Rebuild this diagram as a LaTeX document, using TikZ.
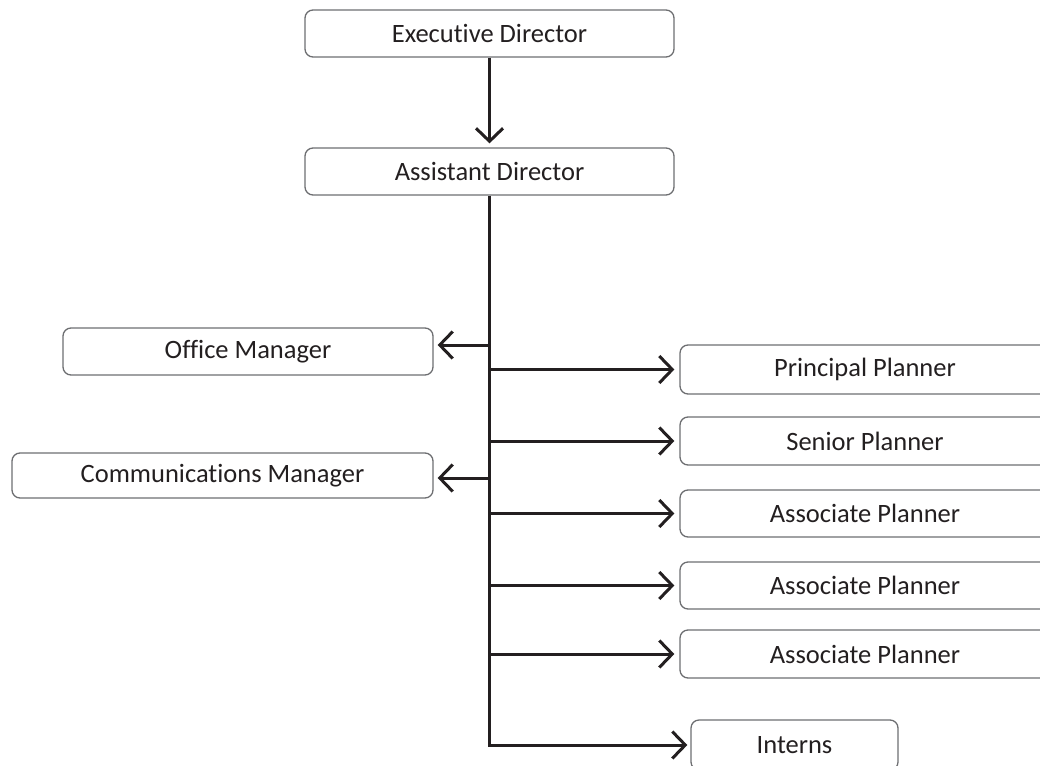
\documentclass[tikz,border=0pt]{standalone}
\usepackage{fontspec}
\setmainfont{Carlito}[Ligatures={NoCommon,NoRequired,NoContextual}]
\usetikzlibrary{arrows.meta}
\definecolor{ink}{HTML}{231F20}
\definecolor{edge}{HTML}{6D6E71}
\begin{document}
\begin{tikzpicture}[x=1pt,y=-1pt,
  box/.style={draw=edge, line width=1.3pt, rounded corners=8pt, inner sep=0pt,
    font=\fontsize{26.5}{30}\selectfont, text=ink},
  conn/.style={draw=ink, line width=3pt},
  arr/.style={conn, -{Straight Barb[length=13pt,width=27pt]}}
]
\useasboundingbox (0,0) rectangle (1040,765);
\clip (0,0) rectangle (1040,765);

\node[box, minimum width=369pt, minimum height=47pt] (ED) at (489.5,33.5) {Executive Director};
\node[box, minimum width=369pt, minimum height=47pt] (AD) at (489.5,171.5) {Assistant Director};
\node[box, minimum width=370pt, minimum height=47pt] (OM) at (248,351.5) {Office Manager};
\node[box, minimum width=421pt, minimum height=45pt] (CM) at (222.5,475.5) {Communications Manager};
\node[box, minimum width=370pt, minimum height=49pt] (PP) at (865,369.5) {Principal Planner};
\node[box, minimum width=370pt, minimum height=48pt] (SP) at (865,441) {Senior Planner};
\node[box, minimum width=370pt, minimum height=47pt] (AP1) at (865,513.5) {Associate Planner};
\node[box, minimum width=370pt, minimum height=47pt] (AP2) at (865,585.5) {Associate Planner};
\node[box, minimum width=370pt, minimum height=48pt] (AP3) at (865,654) {Associate Planner};
\node[box, minimum width=207pt, minimum height=50pt] (IN) at (794.5,745) {Interns};

\coordinate (bOM) at (489.5,345);
\coordinate (bCM) at (489.5,478);

\draw[arr, shorten >=4pt] (ED.south) -- (AD.north);
\draw[arr, shorten >=3pt] (AD.south) |- (IN.west);
\draw[arr, shorten >=4pt] (bOM) -- (OM.east |- bOM);
\draw[arr, shorten >=4pt] (bCM) -- (CM.east |- bCM);
\foreach \n in {PP,SP,AP1,AP2,AP3}{
  \draw[arr, shorten >=5pt] (AD.south |- \n.west) -- (\n.west);
}
\end{tikzpicture}
\end{document}
